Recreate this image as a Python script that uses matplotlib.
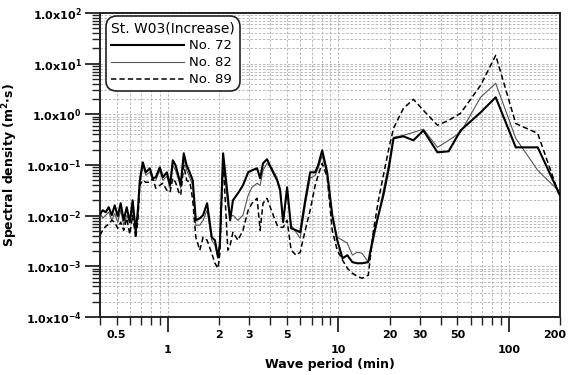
import math
import matplotlib
matplotlib.use("Agg")
import matplotlib.pyplot as plt
import matplotlib.transforms as mtransforms
from matplotlib.ticker import FixedLocator, FuncFormatter, NullFormatter

plt.rcParams['font.family'] = ['DejaVu Sans']
plt.rcParams['mathtext.fontset'] = 'dejavusans'
plt.rcParams['mathtext.default'] = 'bf'

# Wave period (min)
period = [0.40, 0.415, 0.432, 0.450, 0.469, 0.488, 0.508, 0.529, 0.551, 0.574, 0.598, 0.622, 0.648, 0.667, 0.685,
          0.713, 0.743, 0.784, 0.816, 0.850, 0.897, 0.935, 0.987, 1.03, 1.07, 1.11, 1.16, 1.19, 1.24, 1.29, 1.35, 1.40, 1.46, 1.54,
          1.61, 1.70, 1.81, 1.89, 1.97, 2.02, 2.11, 2.25, 2.32, 2.41, 2.58, 2.76, 2.96, 3.12, 3.34, 3.48,
          3.62, 3.82, 4.09, 4.38, 4.56, 4.75, 5.01, 5.29, 5.66, 5.98, 6.40, 6.84, 7.32, 7.62, 8.05, 8.61,
          9.22, 9.86, 10.6, 11.3, 12.1, 12.9, 13.8, 15.0, 16.1, 17.2, 18.4, 19.7, 21.1,
          24.1, 27.6, 31.6, 38.2, 44.4, 52.2, 68.4, 83.9, 110, 148, 200]

no72 = [0.0107, 0.0128, 0.0117, 0.0147, 0.0102, 0.0160, 0.00973, 0.0176, 0.00811, 0.0147, 0.00741, 0.0201, 0.00471, 0.0128, 0.0499,
        0.113, 0.0718, 0.0861, 0.0547, 0.0572, 0.0901, 0.0572, 0.0718, 0.0398, 0.124, 0.0987, 0.0572, 0.0398, 0.170, 0.0987, 0.0686, 0.0499, 0.00811, 0.00889,
        0.0102, 0.0176, 0.00375, 0.00327, 0.00151, 0.00286, 0.170, 0.0231, 0.00811, 0.0201, 0.0277, 0.0398, 0.0718, 0.0786, 0.0861, 0.0547,
        0.108, 0.130, 0.0786, 0.0499, 0.0317, 0.00741, 0.0363, 0.00564, 0.00515, 0.00471, 0.0201, 0.0718, 0.0718, 0.0987, 0.195, 0.0718,
        0.0102, 0.00327, 0.00144, 0.00166, 0.00121, 0.00115, 0.00115, 0.00121, 0.00411, 0.0102, 0.0253, 0.0786, 0.336,
        0.368, 0.307, 0.48, 0.178, 0.186, 0.48, 1.09, 2.17, 0.223, 0.223, 0.0253]

no82 = [0.0117, 0.00889, 0.0102, 0.0117, 0.00811, 0.0111, 0.00741, 0.0128, 0.00647, 0.0102, 0.00741, 0.0128, 0.00647, 0.0102, 0.0398,
        0.0987, 0.0626, 0.0718, 0.0499, 0.0499, 0.0786, 0.0499, 0.0598, 0.0347, 0.0987, 0.0786, 0.0499, 0.0347, 0.136, 0.0786, 0.0547, 0.0398, 0.00647, 0.00647,
        0.00811, 0.0128, 0.00327, 0.00261, 0.00144, 0.00261, 0.136, 0.0160, 0.00930, 0.0102, 0.00811, 0.0102, 0.0253, 0.0363, 0.0436, 0.0398,
        0.0786, 0.108, 0.0861, 0.0547, 0.0347, 0.00811, 0.0290, 0.00647, 0.00471, 0.00358, 0.0160, 0.0547, 0.0626, 0.0861, 0.155, 0.0626,
        0.0102, 0.00375, 0.00327, 0.00286, 0.00166, 0.00190, 0.00181, 0.00121, 0.00327, 0.0102, 0.0317, 0.0987, 0.352,
        0.385, 0.44, 0.51, 0.223, 0.307, 0.44, 2.17, 4.09, 0.336, 0.0786, 0.0290]

no89 = [0.00411, 0.00515, 0.00618, 0.00676, 0.00811, 0.00741, 0.00564, 0.00741, 0.00515, 0.00889, 0.00430, 0.0102, 0.00358, 0.00811, 0.0398,
        0.0499, 0.0456, 0.0456, 0.0547, 0.0347, 0.0398, 0.0436, 0.0317, 0.0290, 0.0547, 0.0456, 0.0290, 0.0253, 0.0987, 0.0499, 0.0456, 0.0201, 0.00375, 0.00208,
        0.00375, 0.00327, 0.00181, 0.00115, 0.000918, 0.00181, 0.124, 0.00208, 0.00261, 0.00471, 0.00327, 0.00515, 0.0128, 0.0176, 0.0220, 0.00515,
        0.0176, 0.0220, 0.0117, 0.00647, 0.00590, 0.00590, 0.00811, 0.00208, 0.00166, 0.00190, 0.00515, 0.0128, 0.0398, 0.0626, 0.108, 0.0572,
        0.00515, 0.00208, 0.00132, 0.000918, 0.000731, 0.000638, 0.000582, 0.000667, 0.00515, 0.0201, 0.0626, 0.195, 0.53,
        1.31, 1.98, 1.20, 0.61, 0.76, 1.05, 3.73, 14.6, 0.66, 0.42, 0.0231]

series_labels = ["No. 72", "No. 82", "No. 89"]
legend_title = "St. W03(Increase)"
x_major = [1, 10, 100]
x_minor_labeled = [0.5, 2, 3, 5, 20, 30, 50, 200]
y_decades = [-4, -3, -2, -1, 0, 1, 2]

fig = plt.figure(figsize=(5.68, 3.75), dpi=100)
ax = fig.add_axes([100/568, 1-317/375, 460/568, 304/375])

ax.plot(period, no72, color='black', lw=1.5, label=series_labels[0], zorder=5)
ax.plot(period, no82, color='#555555', lw=0.8, label=series_labels[1], zorder=4)
ax.plot(period, no89, color='black', lw=1.1, ls=(0, (3.5, 2)), label=series_labels[2], zorder=4)

ax.set_xscale('log')
ax.set_yscale('log')
ax.set_xlim(0.4, 200)
ax.set_ylim(1e-4, 1e2)

# x ticks
ax.xaxis.set_major_locator(FixedLocator(x_major))
ax.xaxis.set_major_formatter(FuncFormatter(lambda v, p: f"{v:g}"))
minors = []
for dec in [0.1, 1, 10, 100]:
    for s in range(2, 10):
        v = s * dec
        if 0.4 <= v <= 200.001:
            minors.append(v)
ax.xaxis.set_minor_locator(FixedLocator(minors))
def minor_fmt(v, p):
    for m in x_minor_labeled:
        if abs(v - m) / m < 1e-6:
            return f"{m:g}"
    return ""
ax.xaxis.set_minor_formatter(FuncFormatter(minor_fmt))

# y ticks
ax.yaxis.set_major_locator(FixedLocator([10.0**d for d in y_decades]))
ax.yaxis.set_major_formatter(FuncFormatter(lambda v, p: r"1.0x10$^{%d}$" % round(math.log10(v))))
yminors = [s * 10.0**d for d in y_decades[:-1] for s in range(2, 10)]
ax.yaxis.set_minor_locator(FixedLocator(yminors))
ax.yaxis.set_minor_formatter(NullFormatter())

ax.tick_params(axis='both', which='major', direction='out', length=11, width=1.3, color='#222222')
ax.tick_params(axis='both', which='minor', direction='out', length=6, width=1.0, color='#222222')
ax.tick_params(axis='x', which='major', pad=9, labelsize=8)
ax.tick_params(axis='x', which='minor', pad=3, labelsize=8)
ax.tick_params(axis='y', which='major', pad=2, labelsize=8)

for sp in ax.spines.values():
    sp.set_linewidth(1.4)
    sp.set_color('#222222')

ax.grid(True, which='both', color='#b0b0b0', ls=(0, (3, 2)), lw=0.6)
ax.set_axisbelow(True)

ax.set_xlabel("Wave period (min)", fontsize=9, fontweight='bold', labelpad=2)
ax.set_ylabel(r"Spectral density (m$^{2}$$\cdot$s)", fontsize=9, fontweight='bold', labelpad=4)

leg = ax.legend(title=legend_title, loc='upper left', bbox_to_anchor=(0.013, 0.99),
                borderaxespad=0, fontsize=9.5, title_fontsize=10, handlelength=5.5,
                handletextpad=0.4, labelspacing=0.3, alignment='left', framealpha=1,
                fancybox=True, edgecolor='#222222', borderpad=0.4)
leg.get_frame().set_linewidth(1.2)
leg.get_frame().set_boxstyle('round', pad=0.0, rounding_size=0.8)
leg.set_zorder(10)

fig.canvas.draw()
shift = mtransforms.ScaledTranslation(-5/100, 0, fig.dpi_scale_trans)
for tick in ax.xaxis.get_minor_ticks():
    lab = tick.label1
    lab.set_fontweight('bold')
    if lab.get_text() == "200":
        lab.set_transform(lab.get_transform() + shift)
for tick in ax.xaxis.get_major_ticks() + ax.yaxis.get_major_ticks():
    tick.label1.set_fontweight('bold')

fig.savefig("out.png", dpi=100)
